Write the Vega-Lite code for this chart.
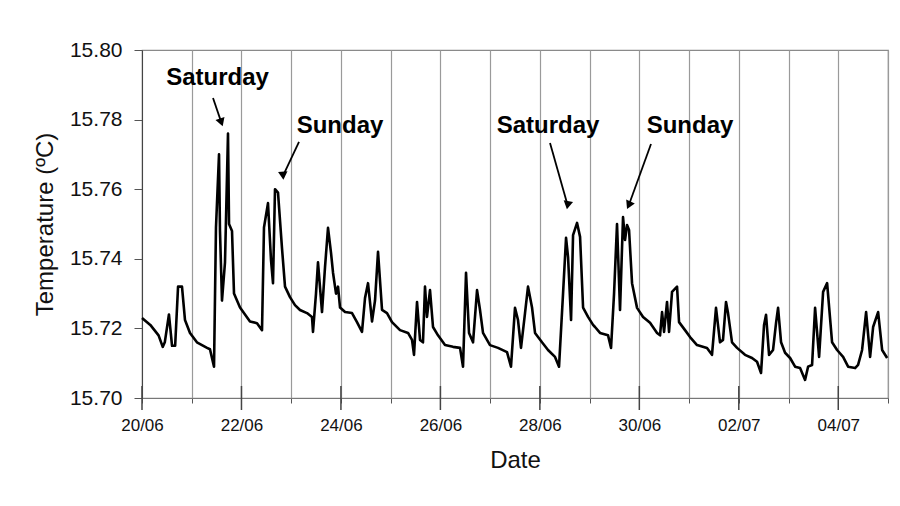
{
  "$schema": "https://vega.github.io/schema/vega-lite/v6.json",
  "autosize": "none",
  "width": 746,
  "height": 348,
  "padding": {"left": 142, "top": 50, "right": 12, "bottom": 108},
  "background": "white",
  "config": {
    "font": "Liberation Sans",
    "view": {"stroke": "#8a8a8a", "strokeWidth": 1.2},
    "axis": {"labelColor": "#111", "titleColor": "#111", "domainColor": "#555", "tickColor": "#555", "titleFontWeight": "normal"}
  },
  "datasets": {
    "series": [
      {"time": "2008-06-20T00:00", "temp": 15.723},
      {"time": "2008-06-20T04:00", "temp": 15.721},
      {"time": "2008-06-20T08:00", "temp": 15.718},
      {"time": "2008-06-20T10:00", "temp": 15.7147},
      {"time": "2008-06-20T11:00", "temp": 15.716},
      {"time": "2008-06-20T13:00", "temp": 15.724},
      {"time": "2008-06-20T14:30", "temp": 15.715},
      {"time": "2008-06-20T16:00", "temp": 15.715},
      {"time": "2008-06-20T17:24", "temp": 15.732},
      {"time": "2008-06-20T19:18", "temp": 15.732},
      {"time": "2008-06-20T20:45", "temp": 15.7224},
      {"time": "2008-06-20T23:10", "temp": 15.7187},
      {"time": "2008-06-21T02:30", "temp": 15.716},
      {"time": "2008-06-21T07:24", "temp": 15.7144},
      {"time": "2008-06-21T08:48", "temp": 15.714},
      {"time": "2008-06-21T10:45", "temp": 15.709},
      {"time": "2008-06-21T11:42", "temp": 15.749},
      {"time": "2008-06-21T13:10", "temp": 15.770},
      {"time": "2008-06-21T13:38", "temp": 15.748},
      {"time": "2008-06-21T14:36", "temp": 15.728},
      {"time": "2008-06-21T16:03", "temp": 15.739},
      {"time": "2008-06-21T17:30", "temp": 15.776},
      {"time": "2008-06-21T18:00", "temp": 15.750},
      {"time": "2008-06-21T19:26", "temp": 15.748},
      {"time": "2008-06-21T20:24", "temp": 15.730},
      {"time": "2008-06-21T23:18", "temp": 15.726},
      {"time": "2008-06-22T04:07", "temp": 15.722},
      {"time": "2008-06-22T07:30", "temp": 15.7215},
      {"time": "2008-06-22T09:55", "temp": 15.7195},
      {"time": "2008-06-22T10:52", "temp": 15.749},
      {"time": "2008-06-22T12:48", "temp": 15.756},
      {"time": "2008-06-22T14:15", "temp": 15.7397},
      {"time": "2008-06-22T15:13", "temp": 15.733},
      {"time": "2008-06-22T16:11", "temp": 15.760},
      {"time": "2008-06-22T17:38", "temp": 15.759},
      {"time": "2008-06-22T19:34", "temp": 15.743},
      {"time": "2008-06-22T21:01", "temp": 15.732},
      {"time": "2008-06-22T23:25", "temp": 15.729},
      {"time": "2008-06-23T01:50", "temp": 15.7267},
      {"time": "2008-06-23T04:15", "temp": 15.7253},
      {"time": "2008-06-23T07:38", "temp": 15.7244},
      {"time": "2008-06-23T10:02", "temp": 15.7233},
      {"time": "2008-06-23T10:31", "temp": 15.719},
      {"time": "2008-06-23T11:58", "temp": 15.730},
      {"time": "2008-06-23T12:56", "temp": 15.739},
      {"time": "2008-06-23T14:52", "temp": 15.7247},
      {"time": "2008-06-23T16:19", "temp": 15.7376},
      {"time": "2008-06-23T17:46", "temp": 15.7489},
      {"time": "2008-06-23T19:13", "temp": 15.7417},
      {"time": "2008-06-23T20:11", "temp": 15.736},
      {"time": "2008-06-23T21:38", "temp": 15.730},
      {"time": "2008-06-23T22:36", "temp": 15.732},
      {"time": "2008-06-23T23:34", "temp": 15.726},
      {"time": "2008-06-24T02:00", "temp": 15.7247},
      {"time": "2008-06-24T05:21", "temp": 15.7244},
      {"time": "2008-06-24T07:45", "temp": 15.7218},
      {"time": "2008-06-24T10:10", "temp": 15.719},
      {"time": "2008-06-24T11:37", "temp": 15.7287},
      {"time": "2008-06-24T13:04", "temp": 15.733},
      {"time": "2008-06-24T15:00", "temp": 15.722},
      {"time": "2008-06-24T16:27", "temp": 15.728},
      {"time": "2008-06-24T17:54", "temp": 15.742},
      {"time": "2008-06-24T19:50", "temp": 15.7253},
      {"time": "2008-06-24T22:14", "temp": 15.7244},
      {"time": "2008-06-25T00:39", "temp": 15.7218},
      {"time": "2008-06-25T04:31", "temp": 15.7195},
      {"time": "2008-06-25T08:23", "temp": 15.7187},
      {"time": "2008-06-25T10:18", "temp": 15.7167},
      {"time": "2008-06-25T11:16", "temp": 15.7124},
      {"time": "2008-06-25T12:43", "temp": 15.7276},
      {"time": "2008-06-25T14:10", "temp": 15.7167},
      {"time": "2008-06-25T15:36", "temp": 15.716},
      {"time": "2008-06-25T16:34", "temp": 15.732},
      {"time": "2008-06-25T17:32", "temp": 15.7233},
      {"time": "2008-06-25T18:59", "temp": 15.731},
      {"time": "2008-06-25T20:26", "temp": 15.7204},
      {"time": "2008-06-25T22:51", "temp": 15.718},
      {"time": "2008-06-26T02:14", "temp": 15.7152},
      {"time": "2008-06-26T06:05", "temp": 15.7147},
      {"time": "2008-06-26T09:28", "temp": 15.7144},
      {"time": "2008-06-26T10:55", "temp": 15.709},
      {"time": "2008-06-26T12:22", "temp": 15.736},
      {"time": "2008-06-26T13:49", "temp": 15.7187},
      {"time": "2008-06-26T15:45", "temp": 15.716},
      {"time": "2008-06-26T17:41", "temp": 15.731},
      {"time": "2008-06-26T19:07", "temp": 15.7253},
      {"time": "2008-06-26T20:34", "temp": 15.7187},
      {"time": "2008-06-26T23:56", "temp": 15.7152},
      {"time": "2008-06-27T03:48", "temp": 15.7144},
      {"time": "2008-06-27T08:09", "temp": 15.7132},
      {"time": "2008-06-27T10:04", "temp": 15.709},
      {"time": "2008-06-27T12:00", "temp": 15.7259},
      {"time": "2008-06-27T13:27", "temp": 15.7224},
      {"time": "2008-06-27T14:54", "temp": 15.7144},
      {"time": "2008-06-27T16:50", "temp": 15.7244},
      {"time": "2008-06-27T18:17", "temp": 15.732},
      {"time": "2008-06-27T20:13", "temp": 15.726},
      {"time": "2008-06-27T21:40", "temp": 15.7187},
      {"time": "2008-06-28T01:02", "temp": 15.716},
      {"time": "2008-06-28T03:56", "temp": 15.7138},
      {"time": "2008-06-28T07:19", "temp": 15.7118},
      {"time": "2008-06-28T09:15", "temp": 15.709},
      {"time": "2008-06-28T11:11", "temp": 15.730},
      {"time": "2008-06-28T12:38", "temp": 15.746},
      {"time": "2008-06-28T13:36", "temp": 15.7405},
      {"time": "2008-06-28T15:03", "temp": 15.7224},
      {"time": "2008-06-28T16:01", "temp": 15.7468},
      {"time": "2008-06-28T17:57", "temp": 15.7503},
      {"time": "2008-06-28T19:24", "temp": 15.7463},
      {"time": "2008-06-28T20:51", "temp": 15.726},
      {"time": "2008-06-28T23:15", "temp": 15.7233},
      {"time": "2008-06-29T01:40", "temp": 15.721},
      {"time": "2008-06-29T02:37", "temp": 15.7204},
      {"time": "2008-06-29T05:02", "temp": 15.7187},
      {"time": "2008-06-29T08:54", "temp": 15.718},
      {"time": "2008-06-29T10:21", "temp": 15.7144},
      {"time": "2008-06-29T11:48", "temp": 15.730},
      {"time": "2008-06-29T13:14", "temp": 15.750},
      {"time": "2008-06-29T14:41", "temp": 15.7253},
      {"time": "2008-06-29T16:08", "temp": 15.752},
      {"time": "2008-06-29T17:06", "temp": 15.7454},
      {"time": "2008-06-29T18:04", "temp": 15.7497},
      {"time": "2008-06-29T19:02", "temp": 15.7483},
      {"time": "2008-06-29T20:29", "temp": 15.733},
      {"time": "2008-06-29T22:54", "temp": 15.7259},
      {"time": "2008-06-30T01:48", "temp": 15.7233},
      {"time": "2008-06-30T05:10", "temp": 15.7216},
      {"time": "2008-06-30T08:33", "temp": 15.7187},
      {"time": "2008-06-30T10:00", "temp": 15.718},
      {"time": "2008-06-30T10:58", "temp": 15.7247},
      {"time": "2008-06-30T11:56", "temp": 15.719},
      {"time": "2008-06-30T13:22", "temp": 15.7276},
      {"time": "2008-06-30T14:20", "temp": 15.719},
      {"time": "2008-06-30T15:47", "temp": 15.7305},
      {"time": "2008-06-30T18:12", "temp": 15.732},
      {"time": "2008-06-30T19:10", "temp": 15.7218},
      {"time": "2008-06-30T22:03", "temp": 15.7195},
      {"time": "2008-07-01T00:28", "temp": 15.7175},
      {"time": "2008-07-01T03:50", "temp": 15.7152},
      {"time": "2008-07-01T08:39", "temp": 15.7144},
      {"time": "2008-07-01T11:04", "temp": 15.7124},
      {"time": "2008-07-01T13:00", "temp": 15.7259},
      {"time": "2008-07-01T14:56", "temp": 15.716},
      {"time": "2008-07-01T16:23", "temp": 15.7167},
      {"time": "2008-07-01T17:50", "temp": 15.7276},
      {"time": "2008-07-01T18:48", "temp": 15.7244},
      {"time": "2008-07-01T20:44", "temp": 15.716},
      {"time": "2008-07-01T23:09", "temp": 15.7144},
      {"time": "2008-07-02T03:00", "temp": 15.7124},
      {"time": "2008-07-02T06:23", "temp": 15.7115},
      {"time": "2008-07-02T08:48", "temp": 15.7104},
      {"time": "2008-07-02T10:44", "temp": 15.7072},
      {"time": "2008-07-02T12:11", "temp": 15.721},
      {"time": "2008-07-02T13:09", "temp": 15.7239},
      {"time": "2008-07-02T14:36", "temp": 15.7124},
      {"time": "2008-07-02T16:32", "temp": 15.7138},
      {"time": "2008-07-02T17:59", "temp": 15.7216},
      {"time": "2008-07-02T18:57", "temp": 15.7259},
      {"time": "2008-07-02T20:24", "temp": 15.716},
      {"time": "2008-07-02T22:20", "temp": 15.713},
      {"time": "2008-07-03T00:45", "temp": 15.7115},
      {"time": "2008-07-03T03:10", "temp": 15.709},
      {"time": "2008-07-03T05:34", "temp": 15.7086},
      {"time": "2008-07-03T07:59", "temp": 15.7052},
      {"time": "2008-07-03T09:26", "temp": 15.709},
      {"time": "2008-07-03T11:22", "temp": 15.7095},
      {"time": "2008-07-03T12:49", "temp": 15.7259},
      {"time": "2008-07-03T14:45", "temp": 15.7118},
      {"time": "2008-07-03T16:41", "temp": 15.7305},
      {"time": "2008-07-03T18:37", "temp": 15.733},
      {"time": "2008-07-03T21:01", "temp": 15.716},
      {"time": "2008-07-03T23:26", "temp": 15.7138},
      {"time": "2008-07-04T02:20", "temp": 15.7118},
      {"time": "2008-07-04T04:45", "temp": 15.709},
      {"time": "2008-07-04T08:07", "temp": 15.7086},
      {"time": "2008-07-04T09:34", "temp": 15.7095},
      {"time": "2008-07-04T11:30", "temp": 15.7138},
      {"time": "2008-07-04T13:26", "temp": 15.7247},
      {"time": "2008-07-04T15:22", "temp": 15.7118},
      {"time": "2008-07-04T16:49", "temp": 15.7204},
      {"time": "2008-07-04T19:14", "temp": 15.7247},
      {"time": "2008-07-04T21:10", "temp": 15.7138},
      {"time": "2008-07-04T23:35", "temp": 15.7115}
    ],
    "arrows": [
      {"id": "a1", "t1": "2008-06-21T10:16", "v1": 15.7862, "t2": "2008-06-21T14:17", "v2": 15.7792},
      {"id": "a2", "t1": "2008-06-23T03:46", "v1": 15.7736, "t2": "2008-06-22T20:05", "v2": 15.7639},
      {"id": "a3", "t1": "2008-06-28T04:54", "v1": 15.7733, "t2": "2008-06-28T13:24", "v2": 15.7554},
      {"id": "a4", "t1": "2008-06-30T05:38", "v1": 15.7730, "t2": "2008-06-29T18:54", "v2": 15.7554}
    ],
    "labels": [
      {"label": "Saturday", "time": "2008-06-21T12:26", "temp": 15.7899},
      {"label": "Sunday", "time": "2008-06-23T23:34", "temp": 15.7762},
      {"label": "Saturday", "time": "2008-06-28T03:56", "temp": 15.7762},
      {"label": "Sunday", "time": "2008-07-01T00:28", "temp": 15.7762}
    ],
    "majorTicks": [
      {"time": "2008-06-20T00:00"},
      {"time": "2008-06-22T00:00"},
      {"time": "2008-06-24T00:00"},
      {"time": "2008-06-26T00:00"},
      {"time": "2008-06-28T00:00"},
      {"time": "2008-06-30T00:00"},
      {"time": "2008-07-02T00:00"},
      {"time": "2008-07-04T00:00"}
    ]
  },
  "layer": [
    {
      "data": {"name": "series"},
      "mark": {"type": "line", "color": "#000", "strokeWidth": 2.6, "strokeJoin": "round"},
      "encoding": {
        "x": {
          "field": "time", "type": "temporal",
          "scale": {"domain": [{"year": 2008, "month": 6, "date": 20}, {"year": 2008, "month": 7, "date": 5}]},
          "axis": {
            "title": "Date",
            "titleFontSize": 24,
            "titlePadding": 15,
            "tickCount": {"interval": "day", "step": 1},
            "labelExpr": "date(datum.value) % 2 === 0 ? timeFormat(datum.value, '%d/%m') : ''",
            "labelFontSize": 17,
            "labelPadding": 14,
            "labelFlush": false,
            "labelOverlap": false,
            "grid": true,
            "gridColor": "#9a9a9a",
            "gridWidth": 1.2,
            "tickSize": 5,
            "domainColor": "#777"
          }
        },
        "y": {
          "field": "temp", "type": "quantitative",
          "scale": {"domain": [15.7, 15.8], "zero": false, "nice": false},
          "axis": {
            "title": "Temperature (ºC)",
            "titleFontSize": 24,
            "titlePadding": 12,
            "values": [15.70, 15.72, 15.74, 15.76, 15.78, 15.80],
            "format": ".2f",
            "labelFontSize": 21,
            "labelPadding": 12,
            "tickSize": 8,
            "grid": false,
            "domainColor": "#444"
          }
        }
      }
    },
    {
      "data": {"name": "majorTicks"},
      "mark": {"type": "tick", "orient": "vertical", "size": 24, "thickness": 1.5, "color": "#444", "opacity": 1},
      "encoding": {
        "x": {"field": "time", "type": "temporal"},
        "y": {"datum": 15.7, "type": "quantitative"}
      }
    },
    {
      "data": {"name": "arrows"},
      "mark": {"type": "rule", "color": "#000", "strokeWidth": 1.8},
      "encoding": {
        "x": {"field": "t1", "type": "temporal"},
        "y": {"field": "v1", "type": "quantitative"},
        "x2": {"field": "t2"},
        "y2": {"field": "v2"}
      }
    },
    {
      "data": {"name": "arrows"},
      "mark": {"type": "point", "shape": "triangle-up", "filled": true, "color": "#000", "opacity": 1, "size": 90},
      "encoding": {
        "x": {"field": "t2", "type": "temporal"},
        "y": {"field": "v2", "type": "quantitative"},
        "angle": {"field": "id", "type": "nominal", "legend": null, "scale": {"domain": ["a1", "a2", "a3", "a4"], "range": [161, 205, 164, 200]}}
      }
    },
    {
      "data": {"name": "labels"},
      "mark": {"type": "text", "font": "Liberation Sans", "fontSize": 24, "fontWeight": "bold", "color": "#000", "align": "center", "baseline": "alphabetic"},
      "encoding": {
        "x": {"field": "time", "type": "temporal"},
        "y": {"field": "temp", "type": "quantitative"},
        "text": {"field": "label"}
      }
    }
  ]
}
